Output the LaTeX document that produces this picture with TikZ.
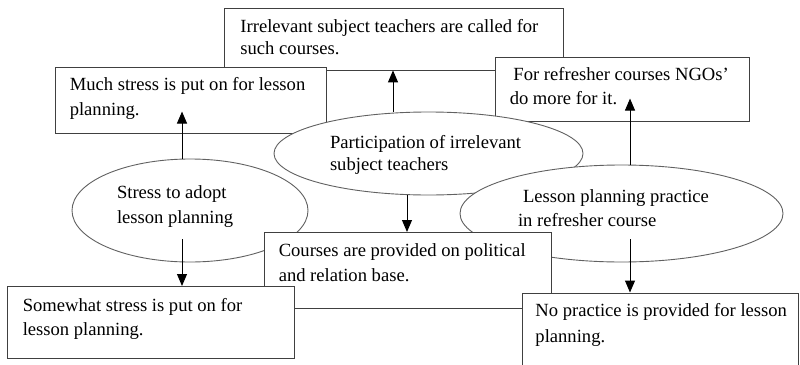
\documentclass[tikz,border=0pt]{standalone}
\usepackage{fontspec}
\setmainfont{Liberation Serif}
\usetikzlibrary{arrows.meta,shapes.geometric}

% Fixed-size text block: #1 width, #2 height, #3 left inset,
% #4 first baseline below the top, #5 line spacing, #6 text
\newcommand{\blocktext}[6]{%
  \parbox[c][#2][t]{#1}{%
    \fontsize{18.6pt}{#5}\selectfont
    \vspace*{\dimexpr#4-0.7\baselineskip\relax}%
    \leftskip=#3\relax\rightskip=0pt plus 1fil\parindent=0pt
    \strut#6}}

\tikzset{
  txtbox/.style={draw=black!75, fill=white, line width=0.9pt,
                 inner sep=0pt, anchor=north west},
  oval/.style={ellipse, draw=black!62, fill=white, line width=0.9pt,
               inner sep=0pt},
  arr/.style={draw=black, line width=1pt,
              -{Triangle[length=12pt,width=10pt]}}
}

\begin{document}
\begin{tikzpicture}[x=1pt,y=-1pt]
  \fill[white] (0,0) rectangle (800,364);
  \clip (0,0) rectangle (800,364);

  % boxes and ovals, back to front
  \node[txtbox] (irr) at (224,8)
    {\blocktext{339pt}{61.5pt}{16pt}{24.3pt}{22pt}%
      {Irrelevant subject teachers are called for\\such courses.}};
  \node[txtbox] (much) at (55,66.5)
    {\blocktext{271pt}{66.5pt}{14.3pt}{23.8pt}{25pt}%
      {Much stress is put on for lesson\\planning.}};
  \node[txtbox] (refr) at (495,56.5)
    {\blocktext{254pt}{64.5pt}{14.3pt}{23.8pt}{24pt}%
      {\hspace*{3.7pt}For refresher courses NGOs’\\do more for it.}};

  \node[oval, minimum width=309pt, minimum height=83pt] (e2) at (428.5,153.5)
    {\blocktext{216.3pt}{58.1pt}{9.65pt}{23.55pt}{22.7pt}%
      {Participation of irrelevant\\subject teachers}};
  \node[oval, minimum width=236pt, minimum height=103pt] (e1) at (190,210.5)
    {\blocktext{165.2pt}{72.1pt}{9.6pt}{23.55pt}{25.7pt}%
      {Stress to adopt\\lesson planning}};
  \node[oval, minimum width=323pt, minimum height=97pt] (e3) at (621.5,213.5)
    {\blocktext{226.1pt}{67.9pt}{9.55pt}{22.45pt}{24pt}%
      {\hspace*{5pt}Lesson planning practice\\in refresher course}};

  \node[txtbox] (cour) at (263.5,232)
    {\blocktext{287.5pt}{76pt}{14.8pt}{24.3pt}{24.4pt}%
      {Courses are provided on political\\and relation base.}};
  \node[txtbox] (some) at (7,286)
    {\blocktext{287pt}{72pt}{15.3pt}{24.7pt}{24.3pt}%
      {Somewhat stress is put on for\\lesson planning.}};
  \node[txtbox] (nop) at (522,292.5)
    {\blocktext{276pt}{78pt}{13pt}{23.5pt}{25.7pt}%
      {No practice is provided for lesson\\planning.}};

  % connectors
  \draw[arr] ([xshift=-8pt]e1.north) -- ++(0,-47);
  \draw[arr] ([shift={(-8,28.5)}]e1.center) coordinate (s2) -- (s2 |- some.north);
  \draw[arr] ([xshift=-35.5pt]e2.north) coordinate (s3) -- (s3 |- irr.south);
  \draw[arr] ([xshift=-21.5pt]e2.south) coordinate (s4) -- (s4 |- cour.north);
  \draw[arr] ([xshift=8.5pt]e3.north) -- ++(0,-66);
  \draw[arr] ([shift={(8.5,25.5)}]e3.center) coordinate (s6) -- (s6 |- nop.north);
\end{tikzpicture}
\end{document}
